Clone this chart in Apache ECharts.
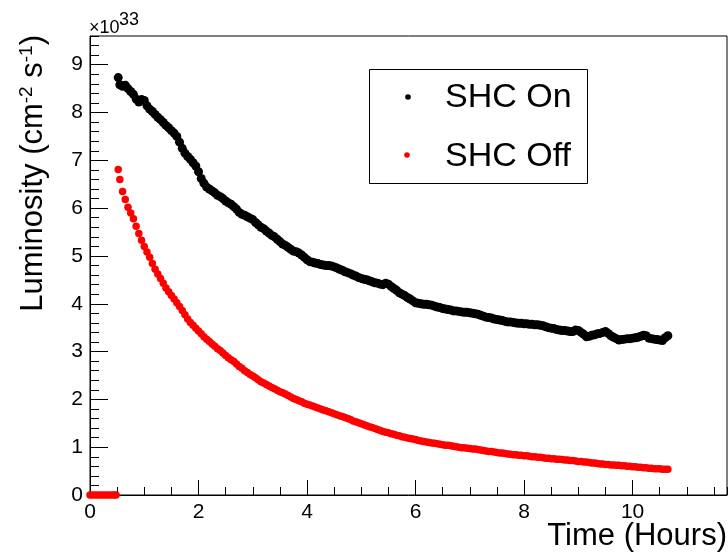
<!DOCTYPE html>
<html>
<head>
<meta charset="utf-8">
<script src="https://cdn.jsdelivr.net/npm/echarts@6/dist/echarts.min.js"></script>
<style>html,body{margin:0;padding:0;background:#fff}#c{width:728px;height:557px}</style>
</head>
<body>
<div id="c"></div>
<script>
// Time in hours
const time = [
0,0.05,0.1,0.15,0.2,0.25,0.3,0.35,0.4,0.45,0.48,
0.52,0.55,0.6,0.65,0.7,0.75,0.8,0.85,0.9,0.95,
1.0,1.05,1.1,1.15,1.2,1.25,1.3,1.35,1.4,1.45,1.5,1.55,1.6,1.65,1.7,1.75,1.8,1.85,1.9,1.95,
2.0,2.05,2.1,2.15,2.2,2.25,2.3,2.35,2.4,2.45,2.5,2.55,2.6,2.65,2.7,2.75,2.8,2.85,2.9,2.95,
3.0,3.05,3.1,3.15,3.2,3.25,3.3,3.35,3.4,3.45,3.5,3.55,3.6,3.65,3.7,3.75,3.8,3.85,3.9,3.95,
4.0,4.05,4.1,4.15,4.2,4.25,4.3,4.35,4.4,4.45,4.5,4.55,4.6,4.65,4.7,4.75,4.8,4.85,4.9,4.95,
5.0,5.05,5.1,5.15,5.2,5.25,5.3,5.35,5.4,5.45,5.5,5.55,5.6,5.65,5.7,5.75,5.8,5.85,5.9,5.95,
6.0,6.05,6.1,6.15,6.2,6.25,6.3,6.35,6.4,6.45,6.5,6.55,6.6,6.65,6.7,6.75,6.8,6.85,6.9,6.95,
7.0,7.05,7.1,7.15,7.2,7.25,7.3,7.35,7.4,7.45,7.5,7.55,7.6,7.65,7.7,7.75,7.8,7.85,7.9,7.95,
8.0,8.05,8.1,8.15,8.2,8.25,8.3,8.35,8.4,8.45,8.5,8.55,8.6,8.65,8.7,8.75,8.8,8.85,8.9,8.95,
9.0,9.05,9.1,9.15,9.2,9.25,9.3,9.35,9.4,9.45,9.5,9.55,9.6,9.65,9.7,9.75,9.8,9.85,9.9,9.95,
10.0,10.05,10.1,10.15,10.2,10.25,10.3,10.35,10.4,10.45,10.5,10.55,10.6,10.65];
// Luminosity, units of 10^33 cm^-2 s^-1
const shcOn = [
null,null,null,null,null,null,null,null,null,null,null,
8.73,8.58,8.55,8.57,8.50,8.44,8.38,8.28,8.22,8.27,
8.25,8.14,8.07,8.02,7.96,7.90,7.85,7.79,7.73,7.68,7.62,7.57,7.50,7.38,7.25,7.15,7.08,7.02,6.95,6.88,
6.76,6.62,6.52,6.44,6.40,6.36,6.32,6.27,6.24,6.20,6.15,6.11,6.08,6.03,5.98,5.91,5.87,5.85,5.82,5.79,
5.76,5.70,5.65,5.60,5.57,5.52,5.48,5.43,5.40,5.35,5.30,5.25,5.22,5.18,5.14,5.10,5.09,5.06,5.02,4.97,
4.92,4.88,4.87,4.85,4.84,4.82,4.81,4.80,4.80,4.79,4.77,4.75,4.72,4.70,4.67,4.65,4.63,4.60,4.58,4.55,
4.53,4.51,4.50,4.48,4.46,4.44,4.43,4.41,4.40,4.43,4.41,4.36,4.32,4.28,4.23,4.20,4.17,4.13,4.10,4.06,
4.02,4.01,4.00,3.99,3.99,3.98,3.97,3.95,3.93,3.92,3.90,3.89,3.88,3.87,3.85,3.85,3.84,3.83,3.82,3.82,
3.81,3.80,3.79,3.78,3.76,3.74,3.72,3.71,3.70,3.68,3.67,3.66,3.65,3.63,3.62,3.62,3.61,3.60,3.59,3.59,
3.58,3.58,3.57,3.57,3.56,3.56,3.55,3.54,3.52,3.50,3.49,3.48,3.46,3.45,3.44,3.44,3.43,3.42,3.42,3.45,
3.44,3.40,3.36,3.31,3.32,3.34,3.35,3.37,3.38,3.40,3.42,3.38,3.33,3.30,3.27,3.24,3.25,3.26,3.27,3.27,
3.28,3.29,3.30,3.32,3.34,3.33,3.28,3.27,3.26,3.25,3.24,3.23,3.29,3.33];
const shcOff = [
0,0,0,0,0,0,0,0,0,0,0,
6.81,6.60,6.35,6.18,6.02,5.90,5.78,5.62,5.47,5.33,
5.20,5.08,4.97,4.84,4.72,4.62,4.53,4.43,4.33,4.25,4.17,4.10,4.02,3.94,3.86,3.77,3.68,3.61,3.55,3.49,
3.43,3.37,3.31,3.26,3.21,3.16,3.11,3.06,3.02,2.97,2.92,2.87,2.83,2.79,2.74,2.69,2.65,2.60,2.56,2.52,
2.49,2.45,2.41,2.37,2.34,2.31,2.28,2.25,2.22,2.19,2.16,2.14,2.11,2.08,2.05,2.02,2.00,1.97,1.95,1.92,
1.90,1.88,1.86,1.84,1.82,1.80,1.78,1.76,1.74,1.72,1.70,1.68,1.66,1.64,1.62,1.60,1.58,1.55,1.53,1.51,
1.49,1.47,1.45,1.43,1.41,1.39,1.37,1.35,1.33,1.31,1.30,1.28,1.27,1.25,1.24,1.22,1.21,1.19,1.18,1.17,
1.16,1.14,1.13,1.12,1.11,1.10,1.09,1.08,1.07,1.06,1.05,1.04,1.04,1.03,1.02,1.01,1.00,0.99,0.99,0.98,
0.97,0.96,0.96,0.95,0.94,0.93,0.92,0.91,0.91,0.90,0.89,0.88,0.88,0.87,0.86,0.85,0.84,0.84,0.83,0.83,
0.82,0.82,0.81,0.80,0.80,0.79,0.79,0.78,0.77,0.77,0.76,0.76,0.75,0.75,0.74,0.73,0.73,0.72,0.72,0.71,
0.70,0.70,0.69,0.69,0.68,0.67,0.67,0.66,0.65,0.65,0.64,0.64,0.63,0.63,0.62,0.62,0.61,0.61,0.60,0.60,
0.59,0.59,0.58,0.58,0.57,0.57,0.56,0.56,0.55,0.55,0.55,0.54,0.54,0.54];
const seriesNames = ['SHC On','SHC Off'];
const seriesColors = ['#000000','#ff0000'];

const FONT = "'Liberation Sans', Arial, Helvetica, sans-serif";
const pairs = arr => time.map((t,i) => (arr[i] === null || arr[i] === undefined) ? null : [t, arr[i]]).filter(p => p);

const chart = echarts.init(document.getElementById('c'), null, {renderer:'canvas'});
const axisCommon = {
  type:'value', min:0,
  splitLine:{show:false},
  axisLine:{show:true, lineStyle:{color:'#000', width:1}},
};
chart.setOption({
  animation:false,
  backgroundColor:'#fff',
  grid:{left:90, right:1, top:36, bottom:62, show:true, borderColor:'#000', borderWidth:1, containLabel:false},
  xAxis:[
    Object.assign({}, axisCommon, {max:11.74, interval:2, position:'bottom',
      axisTick:{show:true, inside:true, length:15, lineStyle:{color:'#000'}},
      axisLabel:{show:true, margin:7, color:'#000', fontSize:21, fontFamily:FONT, showMaxLabel:false}}),
    Object.assign({}, axisCommon, {max:11.74, interval:0.5, position:'bottom', offset:0,
      axisLine:{show:false},
      axisTick:{show:true, inside:true, length:8, lineStyle:{color:'#000'}},
      axisLabel:{show:false}})
  ],
  yAxis:[
    Object.assign({}, axisCommon, {max:9.6, interval:1, position:'left',
      axisTick:{show:true, inside:true, length:18, lineStyle:{color:'#000'}},
      axisLabel:{show:true, margin:7, color:'#000', fontSize:21, fontFamily:FONT, showMaxLabel:false}}),
    Object.assign({}, axisCommon, {max:9.6, interval:0.2, position:'left', offset:0,
      axisLine:{show:false},
      axisTick:{show:true, inside:true, length:9, lineStyle:{color:'#000'}},
      axisLabel:{show:false}})
  ],
  series:[
    {name:seriesNames[1], type:'scatter', xAxisIndex:0, yAxisIndex:0, data:pairs(shcOff), symbol:'circle', symbolSize:7.5,
      itemStyle:{color:seriesColors[1], opacity:1}, z:2},
    {name:seriesNames[0], type:'scatter', xAxisIndex:0, yAxisIndex:0, data:pairs(shcOn), symbol:'circle', symbolSize:9,
      itemStyle:{color:seriesColors[0], opacity:1}, z:3}
  ],
  graphic:[
    {type:'text', x:89, y:37, style:{text:'×10', fontSize:18, fontFamily:FONT, fill:'#000', align:'left', verticalAlign:'bottom'}},
    {type:'text', x:119, y:29, style:{text:'33', fontSize:18, fontFamily:FONT, fill:'#000', align:'left', verticalAlign:'bottom'}},
    {type:'text', x:33, y:35, rotation:Math.PI/2,
      style:{text:'Luminosity (cm{s|-2} s{s|-1})', fontSize:31, fontFamily:FONT, fill:'#000', align:'right', verticalAlign:'middle',
        rich:{s:{fontSize:19, fontFamily:FONT, verticalAlign:'top', lineHeight:19}}}},
    {type:'text', x:727, y:536, style:{text:'Time (Hours)', fontSize:31, fontFamily:FONT, fill:'#000', align:'right', verticalAlign:'middle'}},
    {type:'rect', shape:{x:369.5, y:69.5, width:218, height:114}, style:{fill:'#fff', stroke:'#000', lineWidth:1}, z:10},
    {type:'circle', shape:{cx:408, cy:97, r:2.8}, style:{fill:seriesColors[0]}, z:11},
    {type:'text', x:445, y:98, style:{text:seriesNames[0], fontSize:34, fontFamily:FONT, fill:'#000', align:'left', verticalAlign:'middle'}, z:11},
    {type:'circle', shape:{cx:407, cy:155, r:2.8}, style:{fill:seriesColors[1]}, z:11},
    {type:'text', x:445, y:157, style:{text:seriesNames[1], fontSize:34, fontFamily:FONT, fill:'#000', align:'left', verticalAlign:'middle'}, z:11}
  ]
});
</script>
</body>
</html>
